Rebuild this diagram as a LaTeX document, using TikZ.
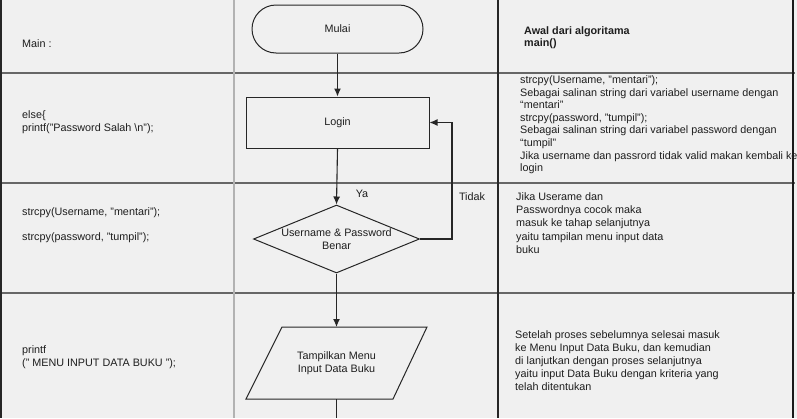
\documentclass[tikz,border=0pt]{standalone}
\usepackage{fontspec}
\setmainfont{Liberation Sans}
\usetikzlibrary{shapes.geometric,arrows.meta}
\definecolor{bg}{RGB}{240,240,240}
\definecolor{ink}{RGB}{30,30,30}
\begin{document}
\begin{tikzpicture}[x=1pt,y=-1pt,
  txt/.style={anchor=north west,inner sep=0pt,align=left,text=ink,font=\fontsize{10.8}{12.6}\selectfont},
  ftxt/.style={text=ink,font=\fontsize{10.8}{12.6}\selectfont,align=center},
  flow/.style={draw=black!85,line width=1pt},
  arr/.style={draw=black!85,line width=1.1pt,-{Latex[length=8pt,width=7pt]}},
  hline/.style={draw=black!60,line width=1.4pt},
  dline/.style={draw=black!85,line width=1.3pt},
  lline/.style={draw=black!30,line width=1.5pt}]
\fill[bg] (0,0) rectangle (797,418);
\useasboundingbox (0,0) rectangle (797,418);
% grid
\draw[hline] (0,73) -- (795,73);
\draw[hline] (0,183) -- (795,183);
\draw[hline] (0,293) -- (795,293);
\draw[dline] (1,0) -- (1,418);
\draw[lline] (234,0) -- (234,418);
\draw[dline] (498,0) -- (498,418);
\draw[draw=black!90,line width=2pt] (793,0) -- (793,418);
% flowchart
\node[flow,ftxt,rounded corners=24pt,minimum width=171pt,minimum height=48pt] (mulai) at (337.5,29) {Mulai};
\node[flow,ftxt,minimum width=183pt,minimum height=51pt] (login) at (337.5,122.5) {Login};
\node[flow,ftxt,diamond,shape aspect=2.44,inner sep=-1pt,minimum width=166pt,minimum height=68pt] (dec) at (336.5,239) {Username \& Password\\Benar};
\coordinate (p1) at (282,327);
\coordinate (p2) at (427,327);
\coordinate (p3) at (393,399);
\coordinate (p4) at (246,399);
\draw[flow] (p1) -- (p2) -- (p3) -- (p4) -- cycle;
\node[ftxt] (tampil) at (336.5,363) {Tampilkan Menu\\Input Data Buku};
\coordinate (ptop) at (336.5,327);
\coordinate (pbot) at (336.5,399);
\coordinate (exit) at (336.5,418);
\coordinate (loopc) at (452,239);
\draw[arr] (mulai.south) -- (login.north);
\draw[arr] (login.south) -- (dec.north);
\draw[arr] (dec.south) -- (ptop);
\draw[flow] (pbot) -- (exit);
\draw[arr] (dec.east) -- (loopc) |- (login.east);
\node[ftxt] (ya) at (362,194) {Ya};
\node[ftxt] (tidak) at (472,197) {Tidak};
% left column
\node[txt] (t1) at (22,39) {Main :};
\node[txt] (t2) at (22,110.5) {else\{\\printf("Password Salah \textbackslash n");};
\node[txt] (t3) at (22,207.5) {strcpy(Username, "mentari");\\[12.4pt]strcpy(password, "tumpil");};
\node[txt] (t4) at (22,345.5) {printf\\(" MENU INPUT DATA BUKU ");};
% right column
\node[txt,font=\bfseries\fontsize{10.8}{12}\selectfont] (r1) at (524,26.5) {Awal dari algoritama\\main()};
\node[txt] (r2) at (520,75.5) {strcpy(Username, "mentari");\\Sebagai salinan string dari variabel username dengan\\“mentari”\\strcpy(password, "tumpil");\\Sebagai salinan string dari variabel password dengan\\“tumpil”\\Jika username dan passrord tidak valid makan kembali ke\\login};
\node[txt,font=\fontsize{10.8}{13.2}\selectfont] (r3) at (516,192.5) {Jika Userame dan\\Passwordnya cocok maka\\masuk ke tahap selanjutnya\\yaitu tampilan menu input data\\buku};
\node[txt,font=\fontsize{10.8}{13.1}\selectfont] (r4) at (515,330.5) {Setelah proses sebelumnya selesai masuk\\ke Menu Input Data Buku, dan kemudian\\di lanjutkan dengan proses selanjutnya\\yaitu input Data Buku dengan kriteria yang\\telah ditentukan};
\end{tikzpicture}
\end{document}
